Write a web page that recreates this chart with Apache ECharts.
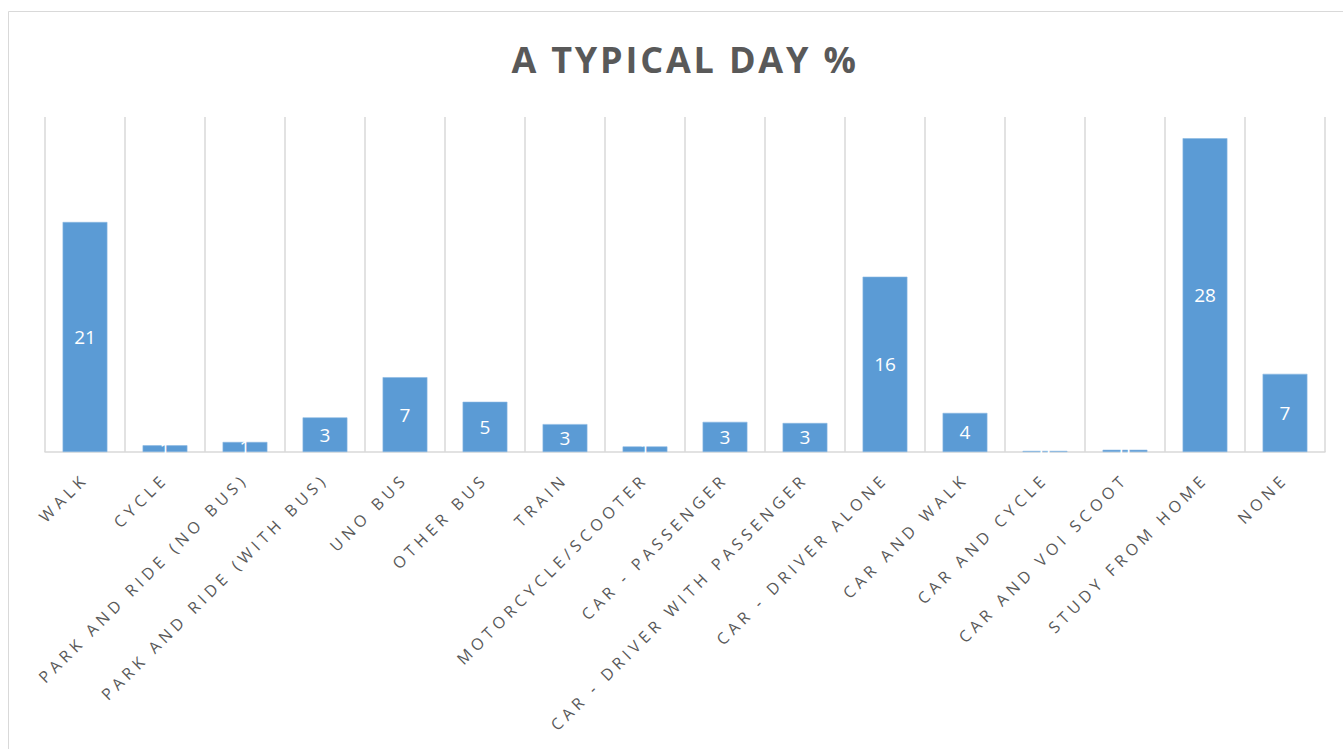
<!DOCTYPE html>
<html>
<head>
<meta charset="utf-8">
<title>A Typical Day %</title>
<script src="https://cdn.jsdelivr.net/npm/echarts@6/dist/echarts.min.js"></script>
<style>
  html, body { margin: 0; padding: 0; background: #ffffff; }
  #chart { width: 1343px; height: 749px; }
  /* spaced-out lettering: wide for the category names, tighter for the title, none for bar values */
  #chart svg text { letter-spacing: 4.5px; }
  #chart svg text[style*="36px"] { letter-spacing: 2.8px; }
  #chart svg text[style*="19px"] { letter-spacing: 0; }
</style>
</head>
<body>
<div id="chart"></div>
<script>
// Travel mode shares on a typical day (percent)
const categories = [
  'WALK', 'CYCLE', 'PARK AND RIDE (NO BUS)', 'PARK AND RIDE (WITH BUS)',
  'UNO BUS', 'OTHER BUS', 'TRAIN', 'MOTORCYCLE/SCOOTER', 'CAR - PASSENGER',
  'CAR - DRIVER WITH PASSENGER', 'CAR - DRIVER ALONE', 'CAR AND WALK',
  'CAR AND CYCLE', 'CAR AND VOI SCOOT', 'STUDY FROM HOME', 'NONE'
];
const shares = [20.6, 0.6, 0.9, 3.1, 6.7, 4.5, 2.5, 0.5, 2.7, 2.6, 15.7, 3.5, 0.1, 0.2, 28.1, 7.0];
const valueAxisMax = 30;

const chart = echarts.init(document.getElementById('chart'), null, { renderer: 'svg' });

chart.setOption({
  animation: false,
  backgroundColor: '#ffffff',
  title: {
    text: 'A TYPICAL DAY %',
    left: 680,
    top: 36,
    textAlign: 'center',
    textStyle: {
      color: '#595959',
      fontFamily: 'Open Sans',
      fontWeight: 'bold',
      fontSize: 36
    }
  },
  graphic: [{
    type: 'rect',
    silent: true,
    shape: { x: 8.5, y: 11.5, width: 1400, height: 800 },
    style: { fill: 'none', stroke: '#d9d9d9', lineWidth: 1 }
  }],
  grid: { left: 45, right: 18, top: 117, bottom: 297, containLabel: false },
  xAxis: {
    type: 'category',
    data: categories,
    axisTick: { show: false },
    axisLine: { show: true, lineStyle: { color: '#d9d9d9', width: 1.5 } },
    splitLine: { show: true, interval: 0, lineStyle: { color: '#d9d9d9', width: 1.5 } },
    axisLabel: {
      interval: 0,
      rotate: 45,
      margin: 24,
      color: '#595959',
      fontFamily: 'Open Sans',
      fontSize: 16
    }
  },
  yAxis: {
    type: 'value',
    min: 0,
    max: valueAxisMax,
    show: false,
    splitLine: { show: false }
  },
  series: [{
    type: 'bar',
    data: shares,
    barWidth: '56%',
    itemStyle: { color: '#5b9bd5', borderColor: '#8cb8e2', borderWidth: 0.6 },
    label: {
      show: true,
      position: 'inside',
      color: '#ffffff',
      fontFamily: 'Open Sans',
      fontSize: 19,
      formatter: p => String(Math.round(p.value))
    }
  }]
});
</script>
</body>
</html>
